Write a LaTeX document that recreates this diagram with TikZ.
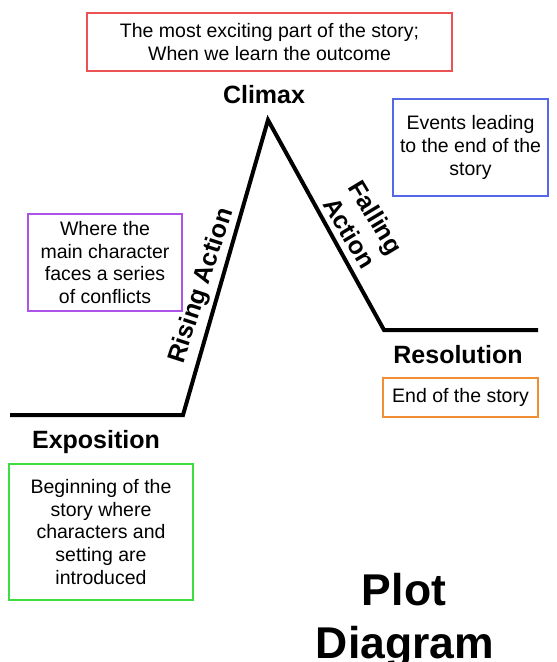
\documentclass[tikz,border=0pt]{standalone}
\usepackage{fontspec}
\setmainfont{Liberation Sans}
\usepackage{tikz}
\usetikzlibrary{positioning,calc}

\definecolor{boxred}{RGB}{236,82,84}
\definecolor{boxblue}{RGB}{84,104,232}
\definecolor{boxpurple}{RGB}{172,84,232}
\definecolor{boxorange}{RGB}{242,142,52}
\definecolor{boxgreen}{RGB}{62,222,62}

\tikzset{
  note/.style={draw, line width=2.6pt, align=center, inner sep=0pt, text=black,
    font=\fontsize{19.5}{22.8}\selectfont},
  stage/.style={font=\bfseries\fontsize{25}{31}\selectfont, inner sep=0pt},
  title/.style={font=\bfseries\fontsize{44.5}{52}\selectfont, inner sep=0pt, anchor=base},
}

\begin{document}
\begin{tikzpicture}[x=1pt,y=-1pt]
\useasboundingbox (0,0) rectangle (557,662);

% Plot line
\coordinate (expo) at (10,415);
\coordinate (rise) at (183,415);
\coordinate (peak) at (268,120);
\coordinate (fall) at (384,330);
\coordinate (reso) at (538,330);
\draw[line width=4pt] (expo) -- (rise) -- (peak) -- (fall) -- (reso);

% Stage names
\node[stage] (climax) at (264,95) {Climax};
\node[stage] (exposition) at (96,442) {Exposition};
\node[stage] (resolution) at (458,355) {Resolution};
\node[stage, rotate=72] (rising) at (202,286) {Rising Action};
\node[stage, rotate=-59, align=center] (falling) at (363,225) {Falling\\Action};

% Notes
\node[note, draw=boxred, minimum width=365pt, minimum height=58pt]
  (climaxnote) at (269.5,42) {The most exciting part of the story;\\When we learn the outcome};
\node[note, draw=boxblue, minimum width=155pt, minimum height=97pt]
  (fallnote) at (470.5,147.5) {Events leading\\to the end of the\\story};
\node[note, draw=boxpurple, minimum width=154pt, minimum height=97pt]
  (risenote) at (105,262.5) {Where the\\main character\\faces a series\\of conflicts};
\node[note, draw=boxorange, minimum width=155pt, minimum height=39pt]
  (resonote) at (460.5,397.5) {End of the story};
\node[note, draw=boxgreen, minimum width=184pt, minimum height=136pt]
  (exponote) at (101,532) {Beginning of the\\story where\\characters and\\setting are\\introduced};

% Title
\node[title] (plot) at (404,605) {Plot};
\node[title] (diagram) at (405,658) {Diagram};
\end{tikzpicture}
\end{document}
